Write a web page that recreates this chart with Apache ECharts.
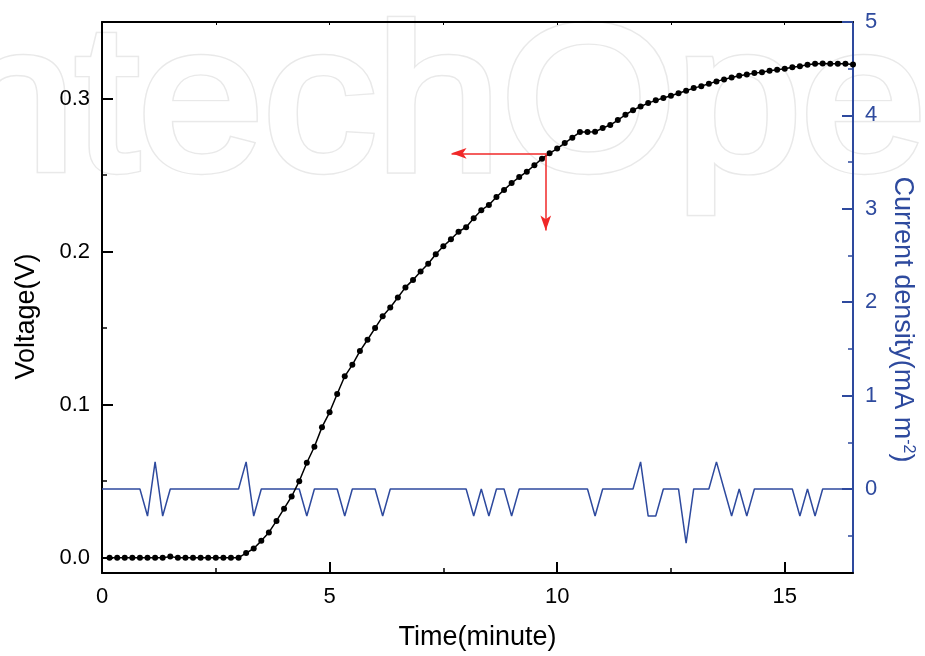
<!DOCTYPE html>
<html><head><meta charset="utf-8">
<script src="https://cdn.jsdelivr.net/npm/echarts@6/dist/echarts.min.js"></script>
<style>html,body{margin:0;padding:0;background:#fff}#c{width:925px;height:656px}</style>
</head><body><div id="c"></div>
<script>
// sampling times in seconds (every 10 s)
const timeSec = [0,10,20,30,40,50,60,70,80,90,100,110,120,130,140,150,160,170,180,190,
  200,210,220,230,240,250,260,270,280,290,300,310,320,330,340,350,360,370,380,390,
  400,410,420,430,440,450,460,470,480,490,500,510,520,530,540,550,560,570,580,590,
  600,610,620,630,640,650,660,670,680,690,700,710,720,730,740,750,760,770,780,790,
  800,810,820,830,840,850,860,870,880,890,900,910,920,930,940,950,960,970,980,990];

// Voltage (V)
const voltage = [null,0,0,0,0,0,0,0,0,0.0007,0,0,0,0,0,0,0,0,0,0.003,
  0.006,0.011,0.0165,0.024,0.032,0.040,0.050,0.062,0.0725,0.0853,0.095,0.107,0.1185,0.126,0.135,0.1424,0.150,0.1577,0.1635,0.170,
  0.1766,0.1815,0.187,0.192,0.1983,0.2035,0.208,0.213,0.2159,0.2218,0.227,0.2305,0.2357,0.2403,0.2448,0.2487,0.2522,0.2564,0.2607,0.2642,
  0.2673,0.2709,0.2744,0.2781,0.2781,0.2783,0.2807,0.2827,0.2859,0.2894,0.2924,0.2948,0.297,0.2988,0.3003,0.3018,0.3035,0.3051,0.3068,0.3081,
  0.3097,0.3112,0.3125,0.3138,0.3149,0.3157,0.3166,0.3172,0.3181,0.3188,0.3194,0.3205,0.3211,0.322,0.3227,0.3229,0.3227,0.3227,0.3227,0.3222];

// Current density (mA m^-2)
const currentDensity = [0,0,0,0,0,0,-0.29,0.29,-0.29,0,0,0,0,0,0,0,0,0,0,0.29,
  -0.29,0,0,0,0,0,0,-0.29,0,0,0,0,-0.29,0,0,0,0,-0.29,0,0,
  0,0,0,0,0,0,0,0,0,-0.29,0,-0.29,0,0,-0.29,0,0,0,0,0,
  0,0,0,0,0,-0.29,0,0,0,0,0,0.29,-0.29,-0.29,0,0,0,-0.58,0,0,
  0,0.29,0,-0.29,0,-0.29,0,0,0,0,0,0,-0.29,0,-0.29,0,0,0,0,0];

const xTicks = [0, 5, 10, 15];
const xMinorTicks = [2.5, 7.5, 12.5];
const xTopTicks = [2.5, 5, 7.5, 10, 12.5, 15];
const vTicks = [0, 0.1, 0.2, 0.3];
const vMinorTicks = [0.05, 0.15, 0.25];
const jTicks = [0, 1, 2, 3, 4, 5];
const jMinorTicks = [-0.5, 0.5, 1.5, 2.5, 3.5, 4.5];

// red arrows (minute, V)
const arrowCorner = [9.75, 0.2642];
const arrowLeftTo = 7.68;
const arrowDownTo = 0.2138;

const BLUE = '#2E4A9E';
const RED = '#F02828';
const FONT = 'Liberation Sans';

const toMin = s => s / 60;
const vData = timeSec.map((s, i) => [toMin(s), voltage[i]]);
const jData = timeSec.map((s, i) => [toMin(s), currentDensity[i]]);

const chart = echarts.init(document.getElementById('c'));

const baseX = {type: 'value', min: 0, max: 16.5, splitLine: {show: false}, gridIndex: 0};
const baseV = {type: 'value', min: -0.01, max: 0.35, splitLine: {show: false}};
const baseJ = {type: 'value', min: -0.9, max: 5, splitLine: {show: false}};

const wmStyle = {text: 'IntechOpen', x: -112, y: -6, verticalAlign: 'top', fontSize: 225, fontFamily: FONT};

chart.setOption({
  animation: false,
  backgroundColor: '#fff',
  grid: {left: 102, right: 72, top: 22, bottom: 82},
  graphic: {elements: [
    {type: 'text', z: -20, silent: true, scaleY: 0.92, originX: 0, originY: 172,
      style: Object.assign({}, wmStyle, {fill: '#e9e9e9', stroke: '#e9e9e9', lineWidth: 9, lineJoin: 'round'})},
    {type: 'text', z: -19, silent: true, scaleY: 0.92, originX: 0, originY: 172,
      style: Object.assign({}, wmStyle, {fill: '#fff', stroke: '#fff', lineWidth: 6, lineJoin: 'round'})}
  ]},
  xAxis: [
    Object.assign({}, baseX, {
      position: 'bottom',
      name: 'Time(minute)', nameLocation: 'middle', nameGap: 51,
      nameTextStyle: {fontSize: 27, color: '#000', fontFamily: FONT},
      axisLine: {show: true, onZero: false, lineStyle: {color: '#000', width: 2}},
      axisTick: {show: true, inside: true, length: 11, customValues: xTicks, lineStyle: {color: '#000', width: 2}},
      axisLabel: {show: true, customValues: xTicks, fontSize: 22, color: '#000', fontFamily: FONT, margin: 13}
    }),
    Object.assign({}, baseX, {
      position: 'bottom',
      axisLine: {show: false, onZero: false},
      axisTick: {show: true, inside: true, length: 5, customValues: xMinorTicks, lineStyle: {color: '#000', width: 1.5}},
      axisLabel: {show: false}
    }),
    Object.assign({}, baseX, {
      position: 'top',
      axisLine: {show: true, onZero: false, lineStyle: {color: '#000', width: 2}},
      axisTick: {show: true, inside: true, length: 3, customValues: xTopTicks, lineStyle: {color: '#000', width: 1}},
      axisLabel: {show: false}
    })
  ],
  yAxis: [
    Object.assign({}, baseV, {
      position: 'left',
      name: 'Voltage(V)', nameLocation: 'middle', nameGap: 62,
      nameTextStyle: {fontSize: 27, color: '#000', fontFamily: FONT, padding: [0, 38, 0, 0]},
      axisLine: {show: true, onZero: false, lineStyle: {color: '#000', width: 2}},
      axisTick: {show: true, inside: true, length: 11, customValues: vTicks, lineStyle: {color: '#000', width: 2}},
      axisLabel: {show: true, customValues: vTicks, fontSize: 22, color: '#000', fontFamily: FONT, margin: 12,
        formatter: v => Number(v).toFixed(1)}
    }),
    Object.assign({}, baseV, {
      position: 'left',
      axisLine: {show: false, onZero: false},
      axisTick: {show: true, inside: true, length: 5, customValues: vMinorTicks, lineStyle: {color: '#000', width: 1.5}},
      axisLabel: {show: false}
    }),
    Object.assign({}, baseJ, {
      position: 'right',
      name: 'Current density(mA m{sup|-2})', nameLocation: 'middle', nameGap: 36, nameRotate: -90,
      nameTextStyle: {fontSize: 27, color: BLUE, fontFamily: FONT, padding: [0, 0, 0, 44],
        rich: {sup: {fontSize: 16, color: BLUE, fontFamily: FONT, verticalAlign: 'top'}}},
      axisLine: {show: true, onZero: false, lineStyle: {color: BLUE, width: 2}},
      axisTick: {show: true, inside: true, length: 11, customValues: jTicks, lineStyle: {color: BLUE, width: 2}},
      axisLabel: {show: true, customValues: jTicks, fontSize: 22, color: BLUE, fontFamily: FONT, margin: 12}
    }),
    Object.assign({}, baseJ, {
      position: 'right',
      axisLine: {show: false, onZero: false},
      axisTick: {show: true, inside: true, length: 5, customValues: jMinorTicks, lineStyle: {color: BLUE, width: 1.5}},
      axisLabel: {show: false}
    })
  ],
  series: [
    {
      name: 'Current density', type: 'line', xAxisIndex: 0, yAxisIndex: 2,
      data: jData, showSymbol: false, symbol: 'none',
      lineStyle: {color: BLUE, width: 1.5}, itemStyle: {color: BLUE}, z: 2
    },
    {
      name: 'Voltage', type: 'line', xAxisIndex: 0, yAxisIndex: 0,
      data: vData, symbol: 'circle', symbolSize: 6, showSymbol: true,
      lineStyle: {color: '#000', width: 1.5}, itemStyle: {color: '#000'}, z: 3,
      markLine: {
        silent: true, animation: false,
        symbol: ['none', 'arrow'], symbolSize: [8, 15],
        label: {show: false},
        lineStyle: {color: RED, width: 1.5, type: 'solid'},
        itemStyle: {color: RED},
        data: [
          [{coord: arrowCorner}, {coord: [arrowLeftTo, arrowCorner[1]]}],
          [{coord: arrowCorner}, {coord: [arrowCorner[0], arrowDownTo]}]
        ]
      }
    }
  ]
});
</script>
</body></html>
